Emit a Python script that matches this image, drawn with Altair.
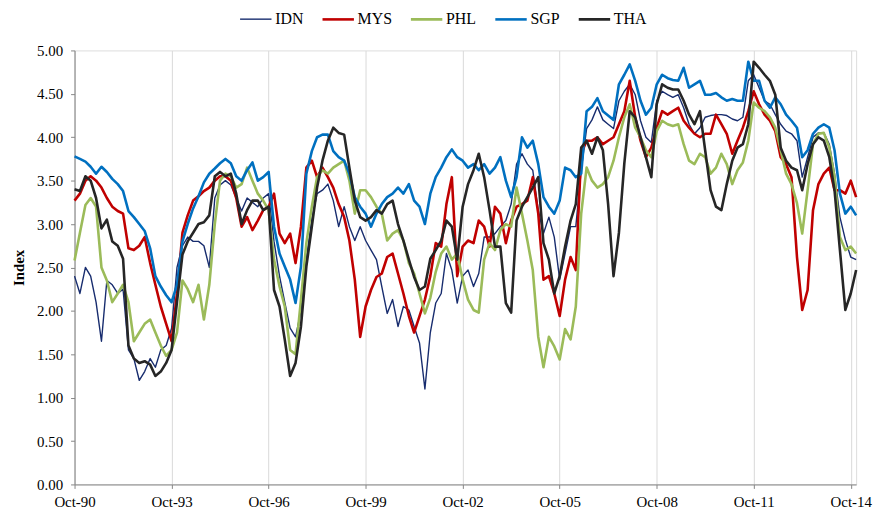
import altair as alt
import pandas as pd

names = ["IDN", "MYS", "PHL", "SGP", "THA"]
colors = ["#172C6E", "#C00000", "#9BBB59", "#0070C0", "#262626"]
widths = [1.4, 2.6, 2.6, 2.6, 2.6]

# bi-monthly readings, Oct-1990 .. Dec-2014
IDN = [2.40, 2.20, 2.50, 2.40, 2.10, 1.65, 2.35, 2.30, 2.20, 2.25, 1.55, 1.45, 1.20, 1.30, 1.45, 1.35,
       1.55, 1.60, 1.80, 2.50, 2.75, 2.85, 2.80, 2.80, 2.75, 2.50, 3.30, 3.45, 3.50, 3.45, 3.30,
       3.15, 3.30, 3.25, 3.20, 3.30, 3.35, 2.80, 2.40, 2.10, 1.80, 1.70, 2.00, 2.60, 3.05, 3.35, 3.39,
       3.46, 3.27, 2.97, 3.20, 2.97, 2.81, 2.97, 2.81, 2.70, 2.59, 2.28, 1.97, 2.13, 1.82, 2.05, 2.01,
       1.82, 1.63, 1.10, 1.75, 2.09,
       2.20, 2.66, 2.47, 2.09, 2.40, 2.47, 2.28, 2.43, 2.85, 2.85, 2.89, 2.97, 3.04, 3.23, 3.69, 3.81,
       3.69, 3.62, 3.16, 2.89, 3.08, 2.85, 2.36, 2.66, 2.97, 2.97, 3.62, 4.10, 4.20, 4.35, 4.20, 4.15,
       4.10,
       4.42, 4.53, 4.61, 4.49, 4.19, 4.00, 3.94, 4.42, 4.53, 4.49, 4.46, 4.49, 4.34, 4.15, 4.04, 4.11,
       4.23, 4.25, 4.26, 4.26, 4.25, 4.21, 4.19, 4.23, 4.65, 4.72, 4.57, 4.42, 4.38, 4.26, 4.15, 4.07,
       4.04, 3.96, 3.54, 3.77, 4.00, 4.05, 4.05, 3.92, 3.58, 3.08, 2.82, 2.62, 2.59]

MYS = [3.27, 3.35, 3.50, 3.55, 3.50, 3.42, 3.30, 3.20, 3.15, 3.12, 2.72, 2.70, 2.75, 2.85, 2.55, 2.30,
       2.05, 1.85, 1.65, 2.20, 2.90, 3.10, 3.27, 3.32, 3.38, 3.42, 3.50, 3.55, 3.55, 3.50, 3.30,
       2.97, 3.08, 2.93, 3.04, 3.16, 3.20, 3.35, 2.89, 2.78, 2.89, 2.55, 2.97, 3.65, 3.73, 3.54, 3.65,
       3.54, 3.42, 3.23, 3.08, 2.81, 2.36, 1.70, 2.05, 2.24, 2.39, 2.43, 2.62, 2.66, 2.43, 2.20, 1.94,
       1.75, 1.94, 2.13, 2.40, 2.78,
       2.74, 3.23, 3.54, 2.40, 2.74, 2.81, 2.78, 3.04, 2.97, 2.74, 3.20, 3.12, 2.78, 3.04, 3.20, 3.23,
       3.27, 3.54, 3.12, 2.36, 2.40, 2.20, 1.94, 2.36, 2.62, 2.47, 3.81, 3.96, 3.96, 4.00, 3.92, 3.96,
       4.00,
       4.15, 4.30, 4.65, 4.23, 3.96, 3.77, 3.88, 4.11, 4.30, 4.26, 4.30, 4.34, 4.19, 4.11, 4.04, 4.00,
       4.04, 4.04, 4.26, 4.15, 4.04, 3.81, 3.96, 4.11, 4.30, 4.53, 4.38, 4.26, 4.19, 4.07, 3.77, 3.69,
       3.54, 2.62, 2.01, 2.24, 3.16, 3.46, 3.58, 3.65, 3.39, 3.39, 3.35, 3.50, 3.31]

PHL = [2.58, 2.90, 3.22, 3.30, 3.20, 2.50, 2.35, 2.10, 2.20, 2.30, 2.10, 1.65, 1.75, 1.85, 1.90, 1.75,
       1.60, 1.48, 1.55, 1.75, 2.35, 2.25, 2.10, 2.30, 1.90, 2.30, 3.00, 3.50, 3.58, 3.55, 3.42,
       3.46, 3.65, 3.50, 3.35, 3.27, 3.16, 2.59, 2.28, 2.05, 1.55, 1.50, 2.13, 2.78, 3.20, 3.54, 3.62,
       3.58, 3.65, 3.69, 3.73, 3.50, 3.12, 3.39, 3.39, 3.31, 3.20, 3.12, 2.81, 2.89, 2.93, 2.81, 2.55,
       2.43, 2.20, 1.97, 2.15, 2.45,
       2.66, 2.74, 2.59, 2.66, 2.36, 2.13, 2.01, 1.98, 2.59, 2.78, 2.70, 2.93, 3.00, 2.97, 3.42, 3.12,
       2.81, 2.47, 1.70, 1.35, 1.70, 1.59, 1.44, 1.79, 1.67, 2.05, 3.12, 3.65, 3.50, 3.42, 3.46, 3.54,
       3.73,
       4.00, 4.23, 4.38, 4.11, 4.00, 3.85, 3.77, 4.07, 4.19, 4.15, 4.13, 4.15, 3.92, 3.73, 3.69, 3.81,
       3.77, 3.58, 3.65, 3.81, 3.69, 3.46, 3.62, 3.71, 3.96, 4.40, 4.34, 4.30, 4.23, 4.11, 3.85, 3.58,
       3.46, 3.24, 2.89, 3.39, 3.92, 4.04, 4.05, 3.88, 3.54, 2.85, 2.70, 2.74, 2.66]

SGP = [3.78, 3.75, 3.72, 3.66, 3.58, 3.66, 3.60, 3.52, 3.46, 3.38, 3.15, 3.08, 3.00, 2.92, 2.72, 2.40,
       2.28, 2.18, 2.10, 2.30, 2.80, 3.00, 3.18, 3.32, 3.48, 3.58, 3.64, 3.70, 3.75, 3.70, 3.55,
       3.50, 3.62, 3.71, 3.50, 3.54, 3.60, 2.97, 2.66, 2.51, 2.36, 2.09, 2.51, 3.58, 3.84, 4.00, 4.03,
       4.03, 3.84, 3.77, 3.73, 3.58, 3.31, 3.20, 3.12, 2.97, 3.12, 3.23, 3.31, 3.35, 3.42, 3.35, 3.46,
       3.27, 3.20, 3.00, 3.35, 3.54,
       3.65, 3.77, 3.86, 3.77, 3.73, 3.65, 3.69, 3.62, 3.69, 3.58, 3.65, 3.77, 3.50, 3.31, 3.54, 4.00,
       3.88, 3.96, 3.69, 3.31, 3.20, 3.12, 3.27, 3.65, 3.62, 3.54, 3.58, 4.30, 4.35, 4.45, 4.30, 4.25,
       4.20,
       4.61, 4.72, 4.84, 4.65, 4.42, 4.26, 4.34, 4.61, 4.72, 4.68, 4.66, 4.65, 4.80, 4.57, 4.61, 4.65,
       4.49, 4.49, 4.51, 4.46, 4.42, 4.44, 4.42, 4.42, 4.87, 4.65, 4.65, 4.42, 4.34, 4.46, 4.38, 4.26,
       4.19, 4.11, 3.77, 3.85, 4.04, 4.11, 4.15, 4.11, 3.85, 3.35, 3.12, 3.20, 3.10]

THA = [3.40, 3.38, 3.55, 3.50, 3.30, 2.95, 3.05, 2.80, 2.75, 2.60, 1.60, 1.45, 1.40, 1.42, 1.38, 1.25,
       1.30, 1.40, 1.55, 2.10, 2.65, 2.80, 2.90, 3.00, 3.02, 3.10, 3.55, 3.60, 3.55, 3.58, 3.35,
       3.00, 3.16, 3.27, 3.27, 3.16, 3.20, 2.24, 2.05, 1.67, 1.25, 1.40, 1.82, 2.51, 2.97, 3.42, 3.73,
       3.96, 4.11, 4.05, 4.03, 3.65, 3.27, 3.08, 3.04, 3.08, 3.16, 3.12, 3.23, 3.27, 3.00, 2.81, 2.59,
       2.39, 2.24, 2.28, 2.60, 2.70,
       2.81, 3.04, 2.97, 2.59, 3.20, 3.46, 3.62, 3.81, 3.54, 3.16, 2.74, 2.74, 2.09, 1.98, 3.04, 3.20,
       3.31, 3.42, 3.54, 2.78, 2.59, 2.20, 2.40, 2.74, 3.04, 3.23, 3.88, 3.96, 3.81, 4.00, 3.85, 3.23,
       2.40,
       2.90, 3.70, 4.30, 4.23, 4.00, 3.77, 3.54, 4.38, 4.61, 4.57, 4.55, 4.55, 4.42, 4.26, 4.15, 4.30,
       3.85, 3.39, 3.20, 3.16, 3.46, 3.73, 3.88, 3.92, 4.15, 4.87, 4.80, 4.72, 4.65, 4.49, 3.88, 3.73,
       3.65, 3.62, 3.39, 3.69, 3.92, 4.00, 3.96, 3.77, 3.39, 2.70, 2.01, 2.20, 2.47]

tick_years = [1990, 1993, 1996, 1999, 2002, 2005, 2008, 2011, 2014]
y_ticks = [0, 0.5, 1.0, 1.5, 2.0, 2.5, 3.0, 3.5, 4.0, 4.5, 5.0]

rows = []
for name, vals in zip(names, [IDN, MYS, PHL, SGP, THA]):
    dates = pd.date_range("1990-10-01", periods=len(vals), freq="2MS")
    for d, v in zip(dates, vals):
        rows.append({"date": d.strftime("%Y-%m-%d"), "series": name, "value": v})
df = pd.DataFrame(rows)

FONT = "Liberation Serif"

legend_kw = dict(
    title=None, orient="none", legendX=165, legendY=-49, direction="horizontal",
    columns=5, symbolType="stroke", symbolSize=1000, columnPadding=13, labelOffset=2,
    labelFont=FONT, labelFontSize=16, labelColor="#000000",
)

chart = alt.Chart(df).mark_line(strokeJoin="round").encode(
    x=alt.X(
        "date:T",
        scale=alt.Scale(
            type="utc",
            domain=[alt.DateTime(year=1990, month=10, date=1, utc=True),
                    alt.DateTime(year=2014, month=12, date=1, utc=True)],
        ),
        axis=alt.Axis(
            values=[alt.DateTime(year=y, month=10, date=1, utc=True) for y in tick_years],
            labelExpr="utcFormat(datum.value, '%b-%y')", title=None, grid=True,
            gridColor="#D9D9D9", gridWidth=1, domainColor="#868686", tickColor="#868686",
            tickSize=4, labelPadding=6, labelFont=FONT, labelFontSize=15, labelColor="#000000",
            labelAngle=0, labelOverlap=False, labelFlush=False,
        ),
    ),
    y=alt.Y(
        "value:Q",
        scale=alt.Scale(domain=[0, 5], nice=False, zero=True),
        axis=alt.Axis(
            values=y_ticks, format=".2f", title="Index", grid=False,
            domainColor="#868686", tickColor="#868686", tickSize=4, labelPadding=8,
            labelFont=FONT, labelFontSize=15, labelColor="#000000",
            titleFont=FONT, titleFontSize=15, titleFontWeight="bold", titleColor="#000000",
            titlePadding=10,
        ),
    ),
    color=alt.Color(
        "series:N",
        scale=alt.Scale(domain=names, range=colors),
        legend=alt.Legend(**legend_kw),
    ),
    strokeWidth=alt.StrokeWidth(
        "series:N",
        scale=alt.Scale(type="ordinal", domain=names, range=widths),
        legend=alt.Legend(**legend_kw),
    ),
    order=alt.Order("date:T"),
).properties(
    width=787,
    height=437,
    autosize=alt.AutoSizeParams(type="none"),
    padding={"left": 67, "top": 41, "right": 20, "bottom": 23},
).configure_view(stroke=None).configure(background="white")

chart.save("out.html", embed_options={"renderer": "svg", "actions": False})
